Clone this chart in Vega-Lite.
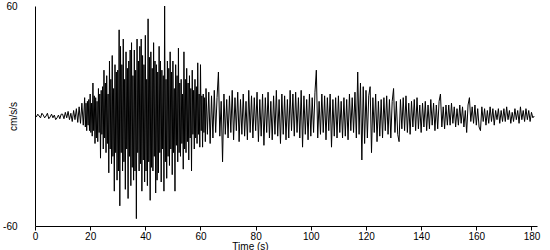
{
  "$schema": "https://vega.github.io/schema/vega-lite/v6.json",
  "width": 502,
  "height": 220,
  "autosize": {"type": "none"},
  "padding": {"left": 35, "top": 6, "right": 13, "bottom": 24},
  "background": "white",
  "config": {"view": {"stroke": null}, "font": "Liberation Sans", "axis": {"labelFont": "Liberation Sans", "titleFont": "Liberation Sans"}},
  "data": {"values": [
{"t":0,"v":0.5},{"t":0.5,"v":-0.5},{"t":1,"v":1},{"t":1.5,"v":0},{"t":2,"v":-1},{"t":2.5,"v":1.5},{"t":3,"v":0.5},{"t":3.5,"v":-1},{"t":4,"v":0},{"t":4.5,"v":1.5},
{"t":5,"v":-1.5},{"t":5.5,"v":-0.5},{"t":6,"v":1},{"t":6.5,"v":-1},{"t":7,"v":0.5},{"t":7.5,"v":-2},{"t":8,"v":-1},{"t":8.5,"v":0.5},{"t":9,"v":-1.5},{"t":9.5,"v":1},
{"t":10,"v":1},{"t":10.5,"v":-1.5},{"t":11,"v":2},{"t":11.5,"v":-1},{"t":12,"v":2.5},{"t":12.5,"v":-2},{"t":13,"v":1.5},{"t":13.5,"v":-3},{"t":14,"v":3},{"t":14.5,"v":-2},
{"t":15,"v":4},{"t":15.5,"v":-3.5},{"t":16,"v":5},{"t":16.5,"v":-4},{"t":17,"v":7},{"t":17.5,"v":-5},
{"t":18,"v":10},{"t":18.25,"v":-6},{"t":18.5,"v":7},{"t":18.75,"v":-8},
{"t":19,"v":8},{"t":19.25,"v":-5},{"t":19.5,"v":9},{"t":19.75,"v":-8},
{"t":20,"v":12},{"t":20.25,"v":-9},{"t":20.5,"v":7},{"t":20.75,"v":-11},
{"t":21,"v":18},{"t":21.25,"v":-8},{"t":21.5,"v":11},{"t":21.75,"v":-15},
{"t":22,"v":10},{"t":22.25,"v":-12},{"t":22.5,"v":8},{"t":22.75,"v":-14},
{"t":23,"v":15},{"t":23.25,"v":-9},{"t":23.5,"v":12},{"t":23.75,"v":-23},
{"t":24,"v":14},{"t":24.25,"v":-10},{"t":24.5,"v":16},{"t":24.75,"v":-18},
{"t":25,"v":25},{"t":25.25,"v":-12},{"t":25.5,"v":18},{"t":25.75,"v":-20},
{"t":26,"v":22},{"t":26.25,"v":-15},{"t":26.5,"v":12},{"t":26.75,"v":-31},
{"t":27,"v":30},{"t":27.25,"v":-18},{"t":27.5,"v":20},{"t":27.75,"v":-26},
{"t":28,"v":33},{"t":28.25,"v":-22},{"t":28.5,"v":15},{"t":28.75,"v":-41},
{"t":29,"v":28},{"t":29.25,"v":-20},{"t":29.5,"v":24},{"t":29.75,"v":-35},
{"t":30,"v":25},{"t":30.25,"v":-30},{"t":30.5,"v":47},{"t":30.75,"v":-49},
{"t":31,"v":38},{"t":31.25,"v":-20},{"t":31.5,"v":28},{"t":31.75,"v":-30},
{"t":32,"v":42},{"t":32.25,"v":-25},{"t":32.5,"v":20},{"t":32.75,"v":-40},
{"t":33,"v":35},{"t":33.25,"v":-18},{"t":33.5,"v":26},{"t":33.75,"v":-45},
{"t":34,"v":30},{"t":34.25,"v":-22},{"t":34.5,"v":36},{"t":34.75,"v":-38},
{"t":35,"v":40},{"t":35.25,"v":-28},{"t":35.5,"v":22},{"t":35.75,"v":-35},
{"t":36,"v":36},{"t":36.25,"v":-30},{"t":36.5,"v":25},{"t":36.75,"v":-56},
{"t":37,"v":42},{"t":37.25,"v":-20},{"t":37.5,"v":30},{"t":37.75,"v":-30},
{"t":38,"v":38},{"t":38.25,"v":-26},{"t":38.5,"v":42},{"t":38.75,"v":-41},
{"t":39,"v":33},{"t":39.25,"v":-24},{"t":39.5,"v":28},{"t":39.75,"v":-36},
{"t":40,"v":44},{"t":40.25,"v":-30},{"t":40.5,"v":20},{"t":40.75,"v":-38},
{"t":41,"v":53},{"t":41.25,"v":-25},{"t":41.5,"v":32},{"t":41.75,"v":-46},
{"t":42,"v":35},{"t":42.25,"v":-28},{"t":42.5,"v":26},{"t":42.75,"v":-30},
{"t":43,"v":40},{"t":43.25,"v":-22},{"t":43.5,"v":30},{"t":43.75,"v":-42},
{"t":44,"v":28},{"t":44.25,"v":-35},{"t":44.5,"v":24},{"t":44.75,"v":-31},
{"t":45,"v":38},{"t":45.25,"v":-20},{"t":45.5,"v":30},{"t":45.75,"v":-36},
{"t":46,"v":25},{"t":46.25,"v":-18},{"t":46.5,"v":22},{"t":46.75,"v":-41},
{"t":47,"v":60},{"t":47.25,"v":-25},{"t":47.5,"v":20},{"t":47.75,"v":-34},
{"t":48,"v":30},{"t":48.25,"v":-22},{"t":48.5,"v":26},{"t":48.75,"v":-27},
{"t":49,"v":35},{"t":49.25,"v":-18},{"t":49.5,"v":24},{"t":49.75,"v":-32},
{"t":50,"v":30},{"t":50.25,"v":-20},{"t":50.5,"v":15},{"t":50.75,"v":-41},
{"t":51,"v":28},{"t":51.25,"v":-16},{"t":51.5,"v":22},{"t":51.75,"v":-25},
{"t":52,"v":37},{"t":52.25,"v":-20},{"t":52.5,"v":18},{"t":52.75,"v":-22},
{"t":53,"v":20},{"t":53.25,"v":-15},{"t":53.5,"v":12},{"t":53.75,"v":-29},
{"t":54,"v":35},{"t":54.25,"v":-18},{"t":54.5,"v":20},{"t":54.75,"v":-20},
{"t":55,"v":26},{"t":55.25,"v":-14},{"t":55.5,"v":18},{"t":55.75,"v":-24},
{"t":56,"v":22},{"t":56.25,"v":-12},{"t":56.5,"v":15},{"t":56.75,"v":-30},
{"t":57,"v":25},{"t":57.25,"v":-10},{"t":57.5,"v":14},{"t":57.75,"v":-18},
{"t":58,"v":20},{"t":58.25,"v":-12},{"t":58.5,"v":16},{"t":58.75,"v":-15},
{"t":59,"v":29},{"t":59.25,"v":-10},{"t":59.5,"v":12},{"t":59.75,"v":-17},
{"t":60,"v":28},{"t":60.25,"v":-8},{"t":60.5,"v":11},{"t":60.75,"v":-17},
{"t":61,"v":12},{"t":61.25,"v":-9},{"t":61.5,"v":10},{"t":61.75,"v":-14},
{"t":62,"v":15},{"t":62.5,"v":-10},{"t":63,"v":13},{"t":63.5,"v":-15},{"t":64,"v":11},{"t":64.5,"v":-12},
{"t":65,"v":14},{"t":65.5,"v":-9},{"t":66,"v":10},{"t":66.5,"v":24},{"t":67,"v":-11},{"t":67.5,"v":8},{"t":68,"v":-25},{"t":68.5,"v":12},{"t":69,"v":-10},{"t":69.5,"v":9},
{"t":70,"v":-12},{"t":70.5,"v":11},{"t":71,"v":-9},{"t":71.5,"v":14},{"t":72,"v":-13},{"t":72.5,"v":10},{"t":73,"v":-8},{"t":73.5,"v":13},{"t":74,"v":-14},{"t":74.5,"v":9},
{"t":75,"v":-10},{"t":75.5,"v":12},{"t":76,"v":-11},{"t":76.5,"v":8},{"t":77,"v":-13},{"t":77.5,"v":14},{"t":78,"v":-9},{"t":78.5,"v":11},{"t":79,"v":-12},{"t":79.5,"v":10},
{"t":80,"v":-8},{"t":80.5,"v":13},{"t":81,"v":-14},{"t":81.5,"v":9},{"t":82,"v":-11},{"t":82.5,"v":12},{"t":83,"v":-16},{"t":83.5,"v":10},{"t":84,"v":-9},{"t":84.5,"v":13},
{"t":85,"v":-12},{"t":85.5,"v":8},{"t":86,"v":-13},{"t":86.5,"v":11},{"t":87,"v":-10},{"t":87.5,"v":14},{"t":88,"v":-11},{"t":88.5,"v":9},{"t":89,"v":-15},{"t":89.5,"v":12},
{"t":90,"v":-10},{"t":90.5,"v":11},{"t":91,"v":-13},{"t":91.5,"v":9},{"t":92,"v":-12},{"t":92.5,"v":14},{"t":93,"v":-8},{"t":93.5,"v":12},{"t":94,"v":-11},{"t":94.5,"v":13},
{"t":95,"v":-9},{"t":95.5,"v":10},{"t":96,"v":-12},{"t":96.5,"v":14},{"t":97,"v":-17},{"t":97.5,"v":11},{"t":98,"v":-10},{"t":98.5,"v":9},{"t":99,"v":-13},{"t":99.5,"v":12},
{"t":100,"v":-11},{"t":100.5,"v":10},{"t":101,"v":-9},{"t":101.5,"v":13},{"t":102,"v":25},{"t":102.5,"v":-12},{"t":103,"v":8},{"t":103.5,"v":-10},{"t":104,"v":12},{"t":104.5,"v":-9},
{"t":105,"v":11},{"t":105.5,"v":-13},{"t":106,"v":10},{"t":106.5,"v":-8},{"t":107,"v":12},{"t":107.5,"v":-17},{"t":108,"v":9},{"t":108.5,"v":-11},{"t":109,"v":10},{"t":109.5,"v":-12},
{"t":110,"v":11},{"t":110.5,"v":-9},{"t":111,"v":8},{"t":111.5,"v":-12},{"t":112,"v":10},{"t":112.5,"v":-11},{"t":113,"v":9},{"t":113.5,"v":-13},{"t":114,"v":12},{"t":114.5,"v":-8},
{"t":115,"v":10},{"t":115.5,"v":-9},{"t":116,"v":13},{"t":116.5,"v":-12},{"t":117,"v":24},{"t":117.5,"v":-10},{"t":118,"v":18},{"t":118.5,"v":-24},{"t":119,"v":16},{"t":119.5,"v":-15},
{"t":120,"v":14},{"t":120.5,"v":-12},{"t":121,"v":11},{"t":121.5,"v":16},{"t":122,"v":-20},{"t":122.5,"v":10},{"t":123,"v":-9},{"t":123.5,"v":12},{"t":124,"v":-14},{"t":124.5,"v":8},
{"t":125,"v":-11},{"t":125.5,"v":9},{"t":126,"v":-12},{"t":126.5,"v":10},{"t":127,"v":-8},{"t":127.5,"v":11},{"t":128,"v":-10},{"t":128.5,"v":9},{"t":129,"v":-12},{"t":129.5,"v":8},
{"t":130,"v":15},{"t":130.5,"v":-9},{"t":131,"v":8},{"t":131.5,"v":-10},{"t":132,"v":-14},{"t":132.5,"v":9},{"t":133,"v":-7},{"t":133.5,"v":10},{"t":134,"v":-8},{"t":134.5,"v":11},
{"t":135,"v":-9},{"t":135.5,"v":7},{"t":136,"v":-10},{"t":136.5,"v":8},{"t":137,"v":-6},{"t":137.5,"v":9},{"t":138,"v":-8},{"t":138.5,"v":10},{"t":139,"v":-7},{"t":139.5,"v":6},
{"t":140,"v":-9},{"t":140.5,"v":7},{"t":141,"v":-6},{"t":141.5,"v":8},{"t":142,"v":-8},{"t":142.5,"v":6},{"t":143,"v":-7},{"t":143.5,"v":9},{"t":144,"v":-5},{"t":144.5,"v":7},
{"t":145,"v":-8},{"t":145.5,"v":6},{"t":146,"v":-7},{"t":146.5,"v":8},{"t":147,"v":12},{"t":147.5,"v":-6},{"t":148,"v":5},{"t":148.5,"v":-7},{"t":149,"v":6},{"t":149.5,"v":-5},
{"t":150,"v":6},{"t":150.5,"v":-5},{"t":151,"v":7},{"t":151.5,"v":-4},{"t":152,"v":5},{"t":152.5,"v":-6},{"t":153,"v":4},{"t":153.5,"v":-5},{"t":154,"v":6},{"t":154.5,"v":-4},
{"t":155,"v":5},{"t":155.5,"v":-6},{"t":156,"v":3},{"t":156.5,"v":-9},{"t":157,"v":6},{"t":157.5,"v":10},{"t":158,"v":-3},{"t":158.5,"v":5},{"t":159,"v":-4},{"t":159.5,"v":6},
{"t":160,"v":-5},{"t":160.5,"v":4},{"t":161,"v":-6},{"t":161.5,"v":-8},{"t":162,"v":5},{"t":162.5,"v":-3},{"t":163,"v":4},{"t":163.5,"v":-5},{"t":164,"v":3},{"t":164.5,"v":-4},
{"t":165,"v":5},{"t":165.5,"v":-3},{"t":166,"v":4},{"t":166.5,"v":-5},{"t":167,"v":3},{"t":167.5,"v":-2},{"t":168,"v":4},{"t":168.5,"v":-4},{"t":169,"v":3},{"t":169.5,"v":-3},
{"t":170,"v":4},{"t":170.5,"v":-3},{"t":171,"v":5},{"t":171.5,"v":-2},{"t":172,"v":3},{"t":172.5,"v":-4},{"t":173,"v":2},{"t":173.5,"v":-3},{"t":174,"v":4},{"t":174.5,"v":-2},
{"t":175,"v":3},{"t":175.5,"v":-4},{"t":176,"v":5},{"t":176.5,"v":-2},{"t":177,"v":3},{"t":177.5,"v":-3},{"t":178,"v":4},{"t":178.5,"v":-2},{"t":179,"v":3},{"t":179.5,"v":-3},
{"t":180,"v":2},{"t":180.5,"v":-1},{"t":181,"v":0}
  ]},
  "mark": {"type": "line", "color": "black", "strokeWidth": 1, "interpolate": "linear", "clip": true},
  "encoding": {
    "x": {
      "field": "t", "type": "quantitative",
      "scale": {"domain": [0, 182], "nice": false, "zero": false},
      "axis": {
        "values": [0, 20, 40, 60, 80, 100, 120, 140, 160, 180],
        "title": "Time (s)", "titleFontSize": 10, "titleFontWeight": "normal", "titleColor": "black",
        "titleX": 215, "titleY": 23, "titleBaseline": "alphabetic", "titleAnchor": null, "titleAlign": "center",
        "labelFontSize": 10, "labelColor": "black", "labelPadding": 1,
        "tickSize": 4, "tickColor": "black", "domainColor": "black", "grid": false, "labelFlush": false
      }
    },
    "y": {
      "field": "v", "type": "quantitative",
      "scale": {"domain": [-60, 60], "nice": false},
      "axis": {
        "values": [-60, 60],
        "labelExpr": "datum.value < 0 ? '-' + abs(datum.value) : '' + datum.value",
        "title": "cm/s/s", "titleFontSize": 10, "titleFontWeight": "normal", "titleColor": "black",
        "titleX": -22, "titleY": 110, "titleAngle": -90, "titleAlign": "center", "titleBaseline": "middle",
        "labelFontSize": 10, "labelColor": "black", "labelPadding": 18, "labelFlush": false,
        "ticks": false, "domainColor": "black", "grid": false
      }
    }
  }
}
